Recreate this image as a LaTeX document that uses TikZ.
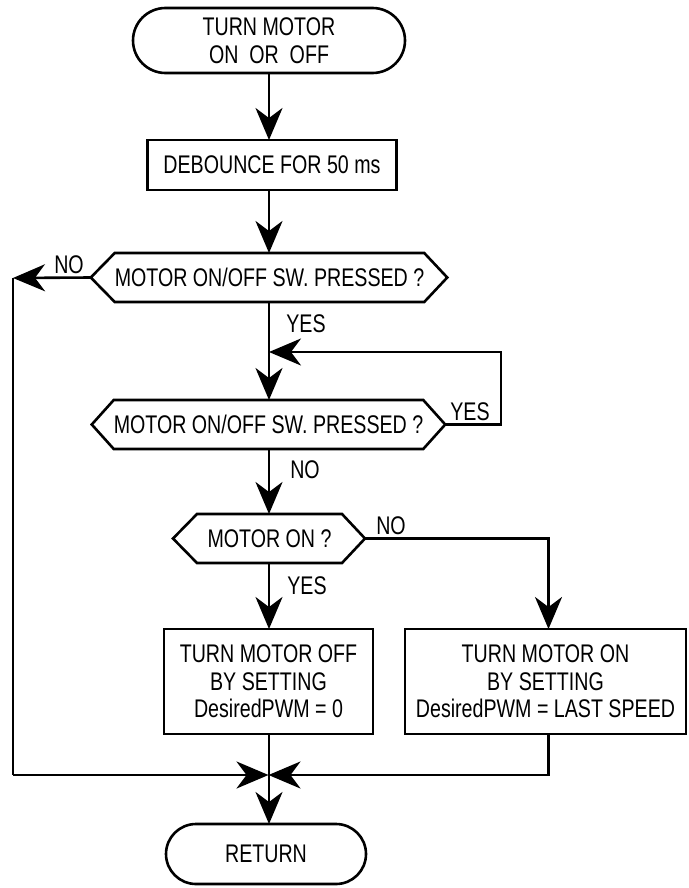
\documentclass[tikz,border=0pt]{standalone}
\usepackage{fontspec}
\setmainfont{Liberation Sans}[FakeStretch=0.77]
\usetikzlibrary{shapes.misc,arrows.meta}
\begin{document}
\begin{tikzpicture}[x=1pt,y=-1pt,
  line width=2.6pt,
  every node/.style={font=\fontsize{25.5}{27.5}\selectfont, inner sep=0pt, outer sep=0pt},
  term/.style={draw, rounded rectangle, align=center},
  proc/.style={draw, rectangle, align=center},
  dtext/.style={rectangle, align=center},
  hexa/.style={line join=miter},
  lbl/.style={},
  arr/.style={-{Stealth[length=32pt,width=27pt,inset=10pt]}}
]
\useasboundingbox (0,0) rectangle (688,888);

% nodes
\node[term, minimum width=272pt, minimum height=65pt] (start) at (269,40.5) {TURN MOTOR\\ON\ \ OR\ \ OFF};
\node[proc, minimum width=249pt, minimum height=50pt] (deb) at (272,165) {DEBOUNCE FOR 50 ms};

\node[dtext, minimum width=305pt, minimum height=49pt] (d1) at (269.5,277.5) {MOTOR ON/OFF SW. PRESSED ?};
\coordinate (d1w) at ([xshift=-24pt]d1.west);
\coordinate (d1e) at ([xshift=23pt]d1.east);
\draw[hexa] (d1.north west) -- (d1.north east) -- (d1e) -- (d1.south east) -- (d1.south west) -- (d1w) -- cycle;

\node[dtext, minimum width=307pt, minimum height=49pt] (d2) at (268.5,424.5) {MOTOR ON/OFF SW. PRESSED ?};
\coordinate (d2w) at ([xshift=-22pt]d2.west);
\coordinate (d2e) at ([xshift=22pt]d2.east);
\draw[hexa] (d2.north west) -- (d2.north east) -- (d2e) -- (d2.south east) -- (d2.south west) -- (d2w) -- cycle;

\node[dtext, minimum width=145pt, minimum height=49pt] (d3) at (269.5,538.5) {MOTOR ON ?};
\coordinate (d3w) at ([xshift=-24pt]d3.west);
\coordinate (d3e) at ([xshift=23pt]d3.east);
\draw[hexa] (d3.north west) -- (d3.north east) -- (d3e) -- (d3.south east) -- (d3.south west) -- (d3w) -- cycle;

\node[proc, minimum width=209pt, minimum height=105pt] (boxL) at (268.5,681.5) {TURN MOTOR OFF\\BY SETTING\\DesiredPWM = 0};
\node[proc, minimum width=281pt, minimum height=105pt] (boxR) at (545.5,681.5) {TURN MOTOR ON\\BY SETTING\\DesiredPWM = LAST SPEED};

\node[term, minimum width=200pt, minimum height=60pt] (ret) at (266,854) {RETURN};

% labels
\node[lbl] (lno1) at (69,265) {NO};
\node[lbl] (lyes1) at (306,324) {YES};
\node[lbl] (lyes2) at (470,412) {YES};
\node[lbl] (lno2) at (305,470) {NO};
\node[lbl] (lno3) at (391,526) {NO};
\node[lbl] (lyes3) at (307,586) {YES};

% helper coordinates
\coordinate (nw) at (13,278);
\coordinate (sw) at (13,775);
\coordinate (lr) at (501,352);
\coordinate (rx) at (548.5,0);
\coordinate (J) at (268.5,775);

% connectors
\draw[arr] (start.south) -- (start.south |- deb.north);
\draw[arr] (start.south |- deb.south) -- (start.south |- d1.north);
\draw[arr] (d1w) -- (nw);
\draw (nw) -- (sw);
\draw[arr] (sw) -- (J);
\draw[arr] (d1.south -| start.south) -- (start.south |- d2.north);
\draw[arr, line join=miter] (d2e) -| (lr) -- (start.south |- lr);
\draw[arr] (start.south |- d2.south) -- (start.south |- d3.north);
\draw[arr, line join=miter] (d3e) -| (rx |- boxR.north);
\draw[arr] (start.south |- d3.south) -- (start.south |- boxL.north);
\draw[arr] (start.south |- boxL.south) -- (start.south |- ret.north);
\draw[arr, line join=miter] (rx |- boxR.south) |- (J);
\end{tikzpicture}
\end{document}
